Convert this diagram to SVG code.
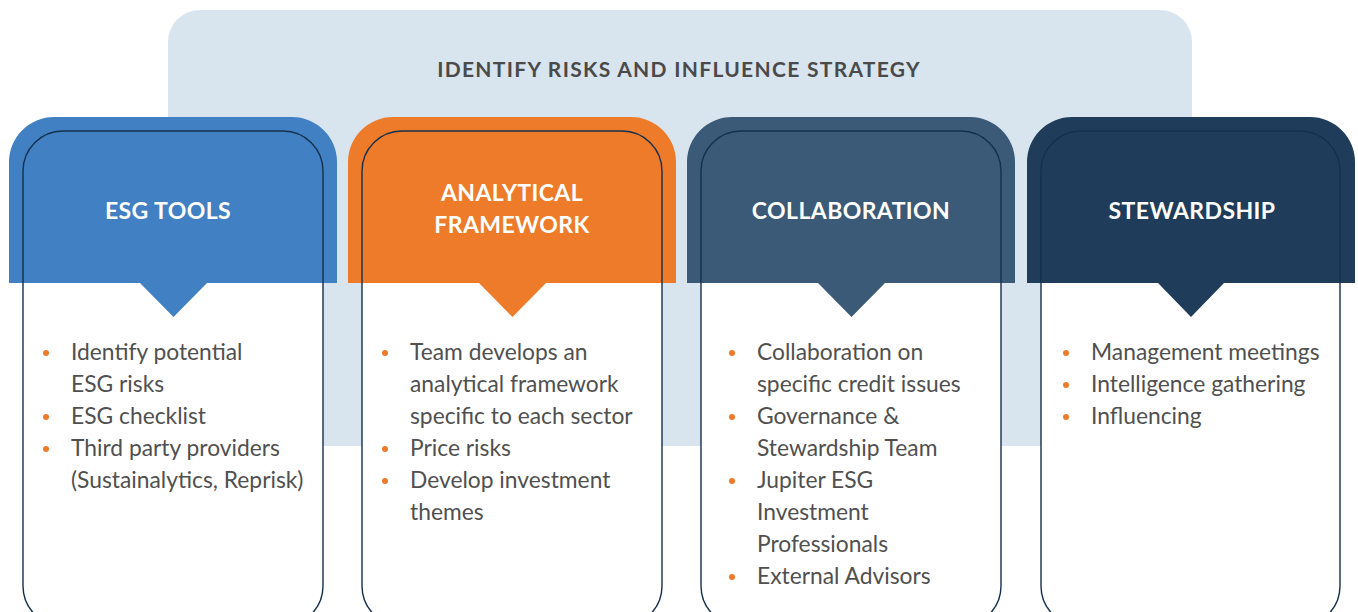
<svg xmlns="http://www.w3.org/2000/svg" width="1358" height="612" viewBox="0 0 1358 612">
  <style>
    .panel { fill: #d9e5ee; }
    .body { fill: #ffffff; }
    .outline { fill: none; stroke: #15304d; stroke-width: 1.4; }
    .title { font-family: Lato, "Open Sans", sans-serif; font-weight: 700; font-size: 21px; letter-spacing: 1.3px; fill: #4a4a4a; text-anchor: middle; }
    .head { font-family: Lato, "Open Sans", sans-serif; font-weight: 700; font-size: 23px; letter-spacing: 0.4px; fill: #ffffff; text-anchor: middle; }
    .item { font-family: Lato, "Open Sans", sans-serif; font-size: 22.8px; fill: #505050; }
    .dot { fill: #ee7b2a; }
    .c1 { fill: #4181c3; }
    .c2 { fill: #ee7b2a; }
    .c3 { fill: #3a5a78; }
    .c4 { fill: #1f3d5a; }
  </style>

  <!-- background panel -->
  <g id="panel">
    <rect class="panel" x="168" y="10" width="1024" height="436" rx="32" ry="32"/>
    <text class="title" x="679" y="77">IDENTIFY RISKS AND INFLUENCE STRATEGY</text>
  </g>

  <!-- card 1 -->
  <g id="esg-tools">
    <rect class="body" x="23" y="131" width="300" height="495" rx="40" ry="40"/>
    <path class="c1" d="M9,283 V162 A45,45 0 0 1 54,117 H292 A45,45 0 0 1 337,162 V283 H207 L173.5,317 L140,283 Z"/>
    <rect class="outline" x="23" y="131" width="300" height="495" rx="40" ry="40"/>
    <text class="head" x="168" y="219">ESG TOOLS</text>
    <circle class="dot" cx="46" cy="353" r="3"/>
    <circle class="dot" cx="46" cy="417" r="3"/>
    <circle class="dot" cx="46" cy="449" r="3"/>
    <text class="item" x="71" y="360">Identify potential</text>
    <text class="item" x="71" y="392">ESG risks</text>
    <text class="item" x="71" y="424">ESG checklist</text>
    <text class="item" x="71" y="456">Third party providers</text>
    <text class="item" x="71" y="488">(Sustainalytics, Reprisk)</text>
  </g>

  <!-- card 2 -->
  <g id="analytical-framework">
    <rect class="body" x="362" y="131" width="300" height="495" rx="40" ry="40"/>
    <path class="c2" d="M348,283 V162 A45,45 0 0 1 393,117 H631 A45,45 0 0 1 676,162 V283 H546 L512.5,317 L479,283 Z"/>
    <rect class="outline" x="362" y="131" width="300" height="495" rx="40" ry="40"/>
    <text class="head" x="512" y="201">ANALYTICAL</text>
    <text class="head" x="512" y="233">FRAMEWORK</text>
    <circle class="dot" cx="385" cy="353" r="3"/>
    <circle class="dot" cx="385" cy="449" r="3"/>
    <circle class="dot" cx="385" cy="481" r="3"/>
    <text class="item" x="410" y="360">Team develops an</text>
    <text class="item" x="410" y="392">analytical framework</text>
    <text class="item" x="410" y="424">specific to each sector</text>
    <text class="item" x="410" y="456">Price risks</text>
    <text class="item" x="410" y="488">Develop investment</text>
    <text class="item" x="410" y="520">themes</text>
  </g>

  <!-- card 3 -->
  <g id="collaboration">
    <rect class="body" x="701" y="131" width="300" height="495" rx="40" ry="40"/>
    <path class="c3" d="M687,283 V162 A45,45 0 0 1 732,117 H970 A45,45 0 0 1 1015,162 V283 H885 L851.5,317 L818,283 Z"/>
    <rect class="outline" x="701" y="131" width="300" height="495" rx="40" ry="40"/>
    <text class="head" x="851" y="219">COLLABORATION</text>
    <circle class="dot" cx="732" cy="353" r="3"/>
    <circle class="dot" cx="732" cy="417" r="3"/>
    <circle class="dot" cx="732" cy="481" r="3"/>
    <circle class="dot" cx="732" cy="577" r="3"/>
    <text class="item" x="757" y="360">Collaboration on</text>
    <text class="item" x="757" y="392">specific credit issues</text>
    <text class="item" x="757" y="424">Governance &amp;</text>
    <text class="item" x="757" y="456">Stewardship Team</text>
    <text class="item" x="757" y="488">Jupiter ESG</text>
    <text class="item" x="757" y="520">Investment</text>
    <text class="item" x="757" y="552">Professionals</text>
    <text class="item" x="757" y="584">External Advisors</text>
  </g>

  <!-- card 4 -->
  <g id="stewardship">
    <rect class="body" x="1041" y="131" width="299" height="495" rx="40" ry="40"/>
    <path class="c4" d="M1027,283 V162 A45,45 0 0 1 1072,117 H1310 A45,45 0 0 1 1355,162 V283 H1224 L1191,317 L1158,283 Z"/>
    <rect class="outline" x="1041" y="131" width="299" height="495" rx="40" ry="40"/>
    <text class="head" x="1192" y="219">STEWARDSHIP</text>
    <circle class="dot" cx="1066" cy="353" r="3"/>
    <circle class="dot" cx="1066" cy="385" r="3"/>
    <circle class="dot" cx="1066" cy="417" r="3"/>
    <text class="item" x="1091" y="360">Management meetings</text>
    <text class="item" x="1091" y="392">Intelligence gathering</text>
    <text class="item" x="1091" y="424">Influencing</text>
  </g>

  <!-- no connectors in this layout -->
  <g id="connectors"/>
</svg>
